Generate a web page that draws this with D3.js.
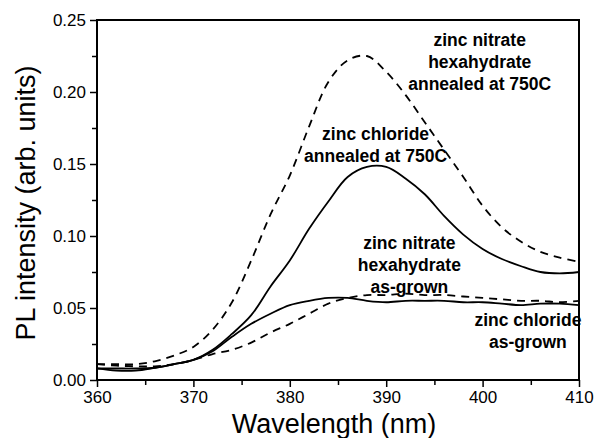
<!DOCTYPE html>
<html>
<head>
<meta charset="utf-8">
<script src="https://cdn.jsdelivr.net/npm/d3@7"></script>
<style>
  html, body { margin: 0; padding: 0; background: #fff; }
  svg { display: block; }
  text { font-family: Arial, "Liberation Sans", sans-serif; fill: #000; }
</style>
</head>
<body>
<svg id="chart" width="596" height="438"></svg>
<script>
const wavelengths = [360,362,364,366,368,370,372,374,376,378,380,382,384,386,388,390,392,394,396,398,400,402,404,406,408,410];

const nitrateAnnealed = [0.011,0.011,0.011,0.013,0.017,0.023,0.035,0.054,0.083,0.115,0.142,0.176,0.207,0.222,0.225,0.214,0.198,0.179,0.160,0.141,0.121,0.106,0.096,0.089,0.085,0.082];
const chlorideAnnealed = [0.008,0.0065,0.0065,0.0085,0.011,0.014,0.021,0.032,0.045,0.065,0.083,0.105,0.124,0.141,0.148,0.148,0.140,0.129,0.114,0.101,0.091,0.084,0.079,0.075,0.074,0.075];
const nitrateAsGrown = [0.011,0.010,0.0095,0.0095,0.011,0.014,0.018,0.021,0.026,0.033,0.039,0.046,0.053,0.057,0.059,0.059,0.060,0.059,0.059,0.058,0.057,0.056,0.055,0.055,0.054,0.055];
const chlorideAsGrown = [0.008,0.008,0.008,0.0085,0.011,0.014,0.020,0.030,0.039,0.046,0.052,0.055,0.057,0.057,0.055,0.054,0.055,0.055,0.055,0.054,0.054,0.053,0.052,0.053,0.053,0.052];

const xTicks = [360,370,380,390,400,410];
const yTicks = [0.00,0.05,0.10,0.15,0.20,0.25];

const seriesNames = ["zinc nitrate hexahydrate annealed at 750C","zinc chloride annealed at 750C","zinc nitrate hexahydrate as-grown","zinc chloride as-grown"];
const seriesValues = [nitrateAnnealed, chlorideAnnealed, nitrateAsGrown, chlorideAsGrown];
const seriesDashed = [true, false, true, false];

const labelLines = [
  ["zinc nitrate","hexahydrate","annealed at 750C"],
  ["zinc chloride","annealed at 750C"],
  ["zinc nitrate","hexahydrate","as-grown"],
  ["zinc chloride","as-grown"]
];
const labelAnchors = [[399.7,0.232],[388.9,0.167],[392.4,0.091],[404.7,0.0375]];

const margin = {left: 97, top: 20, right: 17, bottom: 58};
const W = 596, H = 438;
const iw = W - margin.left - margin.right, ih = H - margin.top - margin.bottom;

const svg = d3.select("#chart");
const g = svg.append("g").attr("transform", `translate(${margin.left},${margin.top})`);

const x = d3.scaleLinear().domain([360,410]).range([0, iw]);
const y = d3.scaleLinear().domain([0,0.25]).range([ih, 0]);

// curves
const line = d3.line().x(d => x(d[0])).y(d => y(d[1])).curve(d3.curveCatmullRom.alpha(0.5));
seriesValues.forEach((vals, i) => {
  g.append("path")
    .datum(wavelengths.map((w, j) => [w, vals[j]]))
    .attr("fill", "none")
    .attr("stroke", "#000")
    .attr("stroke-width", 1.8)
    .attr("stroke-dasharray", seriesDashed[i] ? "8,6" : null)
    .attr("d", line);
});

// axes
g.append("g").attr("transform", `translate(0,${ih})`)
  .call(d3.axisBottom(x).tickValues(xTicks).tickFormat(d3.format("d")).tickSize(7).tickPadding(4));
g.append("g")
  .call(d3.axisLeft(y).tickValues(yTicks).tickFormat(d3.format(".2f")).tickSize(7).tickPadding(4));

// minor ticks
g.append("g").attr("transform", `translate(0,${ih})`)
  .call(d3.axisBottom(x).tickValues(d3.range(365,410,10)).tickFormat("").tickSize(5))
  .call(a => a.select(".domain").remove());
g.append("g")
  .call(d3.axisLeft(y).tickValues(d3.range(0.025,0.25,0.05)).tickFormat("").tickSize(5))
  .call(a => a.select(".domain").remove());

g.selectAll(".tick line").attr("stroke", "#000").attr("stroke-width", 1.5);
g.selectAll(".domain").attr("stroke", "none");
g.selectAll(".tick text").style("font-size", "17px").style("font-family", "Arial, 'Liberation Sans', sans-serif");

// frame
g.append("rect").attr("x", 0).attr("y", 0).attr("width", iw).attr("height", ih)
  .attr("fill", "none").attr("stroke", "#000").attr("stroke-width", 2);

// axis titles
svg.append("text").attr("x", margin.left + iw/2 - 4).attr("y", 433)
  .attr("text-anchor", "middle").style("font-size", "27px").text("Wavelength (nm)");
svg.append("text").attr("transform", `translate(35,203) rotate(-90)`)
  .attr("text-anchor", "middle").style("font-size", "27px").text("PL intensity (arb. units)");

// labels
labelLines.forEach((lines, i) => {
  const t = g.append("text").attr("text-anchor", "middle")
    .style("font-size", "17.5px").style("font-weight", "bold");
  lines.forEach((ln, k) => {
    t.append("tspan").attr("x", x(labelAnchors[i][0])).attr("y", y(labelAnchors[i][1]) + k*22).text(ln);
  });
});
</script>
</body>
</html>
